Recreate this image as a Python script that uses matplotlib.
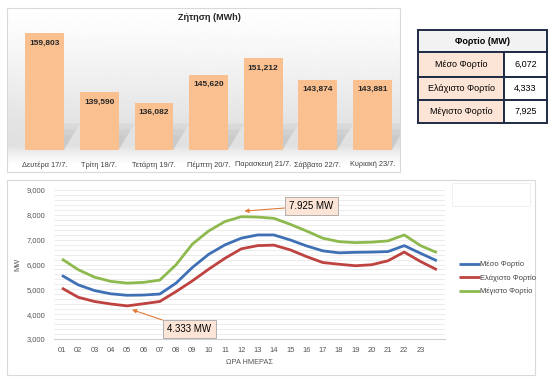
import numpy as np
import matplotlib
matplotlib.use('Agg')
import matplotlib.pyplot as plt
from matplotlib.patches import Rectangle, Polygon

plt.rcParams['font.family'] = ['Liberation Sans', 'DejaVu Sans']

# --- data ---
days = ['Δευτέρα 17/7.', 'Τρίτη 18/7.', 'Τετάρτη 19/7.', 'Πέμπτη 20/7.',
        'Παρασκευή 21/7.', 'Σάββατο 22/7.', 'Κυριακή 23/7.']
demand = [159803, 139590, 136082, 145620, 151212, 143874, 143881]

hours = list(range(1, 25))
hour_labels = ['%02d' % h for h in range(1, 24)] + ['']
mean_load = [5560, 5180, 4950, 4820, 4760, 4770, 4810, 5250, 5880, 6410, 6790, 7060,
             7190, 7190, 6990, 6750, 6550, 6470, 6490, 6500, 6520, 6760, 6450, 6150]
min_load = [5050, 4680, 4510, 4410, 4333, 4420, 4510, 4910, 5340, 5810, 6250, 6630,
            6760, 6780, 6590, 6320, 6080, 6010, 5950, 5990, 6150, 6500, 6120, 5790]
max_load = [6220, 5790, 5490, 5320, 5250, 5280, 5370, 5990, 6820, 7350, 7730, 7925,
            7910, 7860, 7620, 7350, 7060, 6920, 6880, 6900, 6950, 7190, 6760, 6480]
series_names = ['Μέσο Φορτίο', 'Ελάχιστο Φορτίο', 'Μέγιστο Φορτίο']

table_title = 'Φορτίο (MW)'
table_values = ['6,072', '4,333', '7,925']

W, H = 558, 388


def rect(l, t, r, b):
    return [l / W, 1 - b / H, (r - l) / W, (b - t) / H]


fig = plt.figure(figsize=(W / 100, H / 100), dpi=100)
fig.patch.set_facecolor('white')

# background overlay in pixel coordinates
bg = fig.add_axes([0, 0, 1, 1], zorder=-5)
bg.set_xlim(0, W)
bg.set_ylim(H, 0)
bg.axis('off')

# top panel gradient
ys = np.linspace(0, 1, 300)
shade = np.interp(ys, [0, 0.25, 0.7, 0.84, 0.9, 0.96, 1],
                  [1.0, 0.97, 0.89, 0.88, 0.95, 1.0, 1.0])
img = np.repeat(shade[:, None], 2, axis=1)
bg.imshow(img, cmap='gray', vmin=0, vmax=1, extent=[7, 400, 172, 8], aspect='auto', zorder=0)
bg.add_patch(Rectangle((7, 8), 393, 164, fill=False, ec='#D9D9D9', lw=0.8, zorder=1))
# bottom panel
bg.add_patch(Rectangle((7, 180), 528, 195, fc='white', ec='#D9D9D9', lw=0.8, zorder=1))
bg.add_patch(Rectangle((452, 183), 78, 23, fill=False, ec='#EEEEEE', lw=0.6, zorder=2))

# --- table ---
t_left, t_mid, t_right = 418, 504, 547
rows_y = [30, 52, 77, 100, 123]
navy = '#1F2A44'
bg.add_patch(Rectangle((t_left, rows_y[0]), t_right - t_left, rows_y[1] - rows_y[0],
                       fc='#F2F2F2', ec=navy, lw=1.4, zorder=3))
bg.text((t_left + t_right) / 2, (rows_y[0] + rows_y[1]) / 2, table_title, ha='center',
        va='center', fontsize=6.5, fontweight='bold', zorder=4)
for i, (name, val) in enumerate(zip(series_names, table_values)):
    top, bot = rows_y[i + 1], rows_y[i + 2]
    bg.add_patch(Rectangle((t_left, top), t_mid - t_left, bot - top, fc='#FCE4D6',
                           ec=navy, lw=1.4, zorder=3))
    bg.add_patch(Rectangle((t_mid, top), t_right - t_mid, bot - top, fc='white',
                           ec=navy, lw=1.4, zorder=3))
    bg.text((t_left + t_mid) / 2, (top + bot) / 2, name, ha='center', va='center',
            fontsize=6.5, zorder=4)
    bg.text((t_mid + t_right) / 2, (top + bot) / 2, val, ha='center', va='center',
            fontsize=6.5, zorder=4)

# --- bar chart ---
ax1 = fig.add_axes(rect(17.3, 32.4, 399.8, 150))
ax1.set_facecolor('none')
x = np.arange(len(days))
bw = 0.71
ax1.bar(x, demand, width=bw, color='#FAC090', zorder=3)
# soft floor shadows behind the bars
for xi in x:
    for k, a in enumerate([0.07, 0.06, 0.05]):
        dx = 0.3 - 0.08 * k
        dy = 9000 - 2000 * k
        ax1.add_patch(Polygon([(xi - bw / 2, 120000), (xi + bw / 2, 120000),
                               (xi + bw / 2 + dx, 120000 + dy), (xi - bw / 2 + dx, 120000 + dy)],
                              closed=True, fc='#606060', alpha=a, ec='none', zorder=2))
for xi, v in zip(x, demand):
    ax1.annotate('{:,}'.format(v), (xi, v), xytext=(0, -10), textcoords='offset pixels',
                 ha='center', va='center', fontsize=6, fontweight='bold', color='#262626',
                 zorder=4)
ax1.set_xlim(-0.5, len(days) - 0.5)
ax1.set_ylim(120000, 160000)
ax1.set_xticks(x)
ax1.set_xticklabels(days, fontsize=5.3, color='#404040')
ax1.tick_params(axis='x', length=0, pad=8)
ax1.set_yticks([])
for s in ax1.spines.values():
    s.set_visible(False)
fig.text(209 / W, 1 - 17 / H, 'Ζήτηση (MWh)', ha='center', va='center', fontsize=6.5,
         fontweight='bold', color='#262626')

# --- line chart ---
ax2 = fig.add_axes(rect(53.8, 190, 445, 339))
ax2.set_facecolor('none')
colors = ['#3F70B5', '#BE4240', '#8DB94E']
for vals, name, c in zip([mean_load, min_load, max_load], series_names, colors):
    ax2.plot(hours, vals, color=c, lw=2.0, label=name, zorder=3, solid_capstyle='butt')
ax2.set_xlim(0.5, 24.5)
ax2.set_ylim(3000, 9000)
ax2.set_yticks(range(3000, 9001, 1000))
ax2.set_yticklabels(['{:,}'.format(v) for v in range(3000, 9001, 1000)])
ax2.set_yticks(range(3000, 9001, 200), minor=True)
ax2.set_xticks(hours)
ax2.set_xticklabels(hour_labels)
ax2.tick_params(axis='both', which='both', length=0, labelsize=5.4, colors='#555555')
ax2.tick_params(axis='x', pad=6)
ax2.tick_params(axis='y', pad=6)
ax2.grid(axis='y', which='both', color='#E4E4E4', lw=0.5, zorder=0)
for k, s in ax2.spines.items():
    s.set_visible(k == 'bottom')
ax2.spines['bottom'].set_color('#D0D0D0')
ax2.set_xlabel('ΩΡΑ ΗΜΕΡΑΣ', fontsize=5.3, color='#555555', labelpad=3)
ax2.set_ylabel('MW', fontsize=5.3, color='#555555', labelpad=4)

box = dict(boxstyle='square,pad=0.45', fc='#FCE4D6', ec='#A6A6A6', lw=0.6)
arrow = dict(arrowstyle='-|>', color='#E07B39', lw=0.8, mutation_scale=6, shrinkA=0, shrinkB=0)
ax2.annotate('7.925 MW', xy=(12.2, 8150), xytext=(16.3, 8357), fontsize=7, ha='center',
             va='center', bbox=box, arrowprops=arrow, zorder=5)
ax2.annotate('4.333 MW', xy=(5.3, 4180), xytext=(8.8, 3400), fontsize=7, ha='center',
             va='center', bbox=box, arrowprops=arrow, zorder=5)

fig.legend(loc='center left', bbox_to_anchor=(452 / W, 1 - 278 / H), frameon=False,
           fontsize=5.4, handlelength=2.8, handletextpad=0.1, labelspacing=0.8,
           labelcolor='#404040')

fig.savefig('out.png', dpi=100)
